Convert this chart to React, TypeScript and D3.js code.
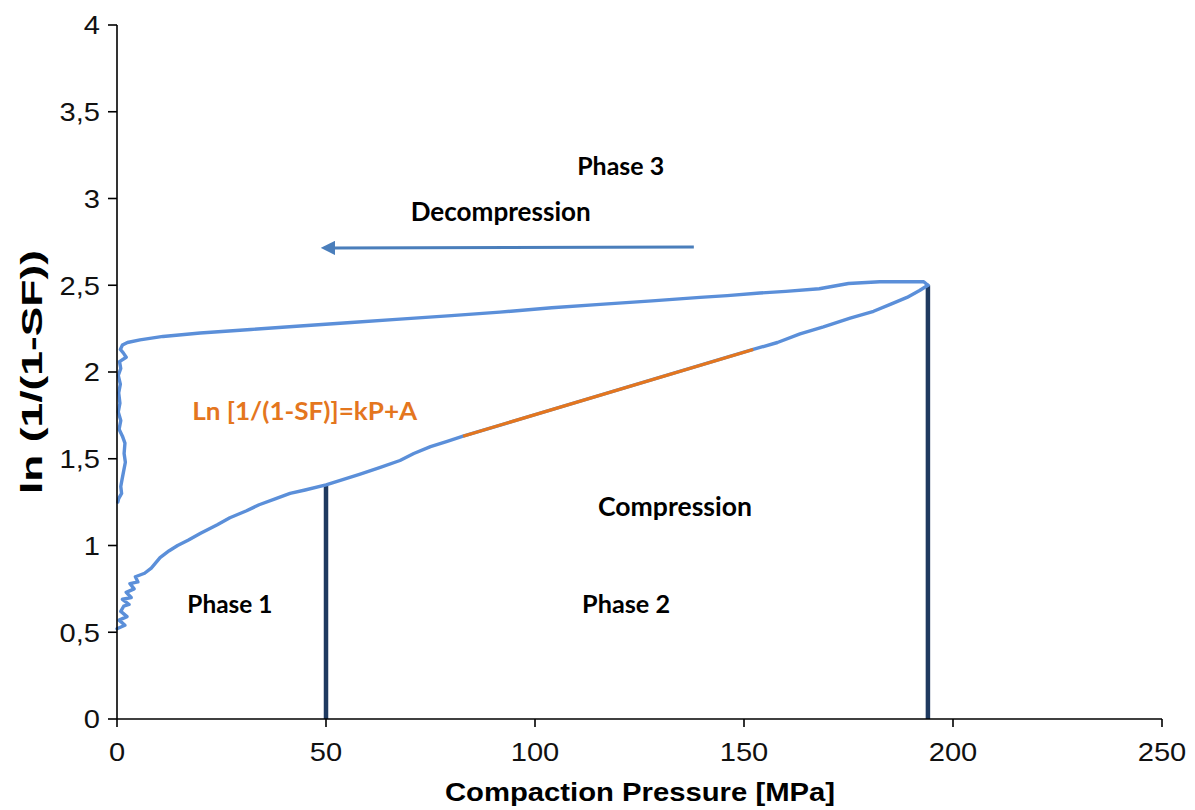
import * as d3 from 'd3'

const W = 1195
const H = 810
const MARGIN = { top: 25, right: 33, bottom: 91, left: 117 }

const X_TICKS = [0, 50, 100, 150, 200, 250]
const Y_TICKS = [0, 0.5, 1, 1.5, 2, 2.5, 3, 3.5, 4]

// compression branch: [pressure MPa, ln(1/(1-SF))]
const COMPRESSION: [number, number][] = [
  [0.0, 0.52], [1.9, 0.54], [0.5, 0.57], [2.4, 0.59], [0.9, 0.62], [1.6, 0.65],
  [2.9, 0.66], [1.3, 0.69], [3.4, 0.7], [2.2, 0.73], [4.1, 0.75], [3.1, 0.78],
  [5.0, 0.79], [4.4, 0.82], [6.6, 0.84], [8.2, 0.87], [10.3, 0.93], [12.5, 0.97],
  [14.5, 1.0], [17.0, 1.03], [20, 1.07], [24, 1.12], [27, 1.16], [31, 1.2],
  [34, 1.235], [38, 1.27], [41.4, 1.3], [45, 1.32], [50, 1.35], [54, 1.38],
  [58, 1.41], [63, 1.45], [67.7, 1.49], [71, 1.53], [75, 1.57], [79, 1.6],
  [82.8, 1.63], [152.2, 2.13], [158, 2.17], [163.4, 2.22], [169, 2.26],
  [175.4, 2.31], [181, 2.35], [185, 2.39], [189, 2.43], [192, 2.47], [194, 2.5]
]

// linear fit region shown in orange
const FIT: [number, number][] = [[82.8, 1.63], [152.2, 2.13]]

// decompression branch
const DECOMPRESSION: [number, number][] = [
  [194, 2.5], [193, 2.52], [182.5, 2.52], [175, 2.51], [168, 2.48], [160, 2.465],
  [153.8, 2.455], [146, 2.44], [139.5, 2.43], [128, 2.41], [115.6, 2.39],
  [104, 2.37], [91.6, 2.345], [80, 2.325], [67.7, 2.305], [56, 2.285],
  [43.8, 2.265], [32, 2.245], [19.9, 2.225], [11, 2.205], [5.5, 2.185],
  [2.5, 2.17], [1.3, 2.155], [0.8, 2.13], [1.5, 2.11], [2.2, 2.085],
  [0.6, 2.06], [0.9, 2.02], [0.3, 1.98], [0.8, 1.93], [0.4, 1.88], [0.7, 1.82],
  [0.3, 1.77], [0.9, 1.72], [0.5, 1.67], [1.3, 1.63], [1.9, 1.59], [1.7, 1.53],
  [2.0, 1.48], [1.6, 1.43], [1.2, 1.38], [0.9, 1.34], [1.1, 1.3], [0.4, 1.27], [0.2, 1.25]
]

const PHASE_LINES = [
  { p: 50, top: 1.35 },
  { p: 194, top: 2.5 }
]

const ARROW = { from: [138, 2.72], to: [51.5, 2.715] }

const LABELS = [
  { text: 'Phase 3', p: 120.5, v: 3.175, size: 25, len: 87, color: '#000' },
  { text: 'Decompression', p: 91.8, v: 2.91, size: 26, len: 180, color: '#000' },
  { text: 'Ln [1/(1-SF)]=kP+A', p: 44.9, v: 1.76, size: 25, len: 225, color: '#E4761E' },
  { text: 'Compression', p: 133.5, v: 1.21, size: 26, len: 154, color: '#000' },
  { text: 'Phase 1', p: 27, v: 0.65, size: 25, len: 85, color: '#000' },
  { text: 'Phase 2', p: 121.8, v: 0.65, size: 25, len: 88, color: '#000' }
]

export default function App() {
  const innerW = W - MARGIN.left - MARGIN.right
  const innerH = H - MARGIN.top - MARGIN.bottom

  const x = d3.scaleLinear().domain([0, 250]).range([0, innerW])
  const y = d3.scaleLinear().domain([0, 4]).range([innerH, 0])

  const line = d3.line<[number, number]>()
    .x(d => x(d[0]))
    .y(d => y(d[1]))

  const fmt = (v: number) => String(v).replace('.', ',')
  const labelFont = 'Lato, "Open Sans", sans-serif'
  const axisFont = '"Liberation Sans", Arial, sans-serif'
  const stretch = 1.12

  return (
    <svg width={W} height={H} style={{ position: 'absolute', left: 0, top: 0, background: '#fff' }}>
      <defs>
        <marker id="arrowhead" viewBox="0 0 10 10" refX="2" refY="5"
          markerWidth="4.8" markerHeight="4.8" orient="auto-start-reverse">
          <path d="M0,0 L10,5 L0,10 z" fill="#4A7EBB" />
        </marker>
      </defs>
      <g transform={`translate(${MARGIN.left}, ${MARGIN.top})`}>
        {/* Phase separators */}
        {PHASE_LINES.map(d => (
          <line key={d.p} x1={x(d.p)} x2={x(d.p)} y1={y(0)} y2={y(d.top)}
            stroke="#1F3A60" strokeWidth={4.5} />
        ))}

        {/* Curves */}
        <path d={line(DECOMPRESSION) || ''} fill="none" stroke="#5B8FD9" strokeWidth={3.4}
          strokeLinejoin="round" strokeLinecap="round" />
        <path d={line(COMPRESSION) || ''} fill="none" stroke="#5B8FD9" strokeWidth={3.4}
          strokeLinejoin="round" strokeLinecap="round" />
        <path d={line(FIT) || ''} fill="none" stroke="#E4761E" strokeWidth={3.2} />

        {/* Arrow */}
        <line x1={x(ARROW.from[0])} y1={y(ARROW.from[1])} x2={x(ARROW.to[0])} y2={y(ARROW.to[1])}
          stroke="#4A7EBB" strokeWidth={3} markerEnd="url(#arrowhead)" />

        {/* Annotations */}
        {LABELS.map(l => (
          <text key={l.text} x={x(l.p) - l.len / 2} y={y(l.v)} dominantBaseline="middle"
            textLength={l.len} lengthAdjust="spacingAndGlyphs"
            fontFamily={labelFont} fontWeight="bold" fontSize={l.size} fill={l.color}>
            {l.text}
          </text>
        ))}

        {/* Axes */}
        <line x1={0} x2={innerW} y1={innerH} y2={innerH} stroke="#000" strokeWidth={1.6} />
        <line x1={0} x2={0} y1={0} y2={innerH} stroke="#000" strokeWidth={1.6} />
        {X_TICKS.map(t => (
          <g key={t} transform={`translate(${x(t)}, ${innerH})`}>
            <line y1={0} y2={8} stroke="#000" strokeWidth={1.6} />
            <text transform={`translate(0, 42) scale(${stretch}, 1)`} textAnchor="middle"
              fontFamily={axisFont} fontSize={26} fill="#111">{t}</text>
          </g>
        ))}
        {Y_TICKS.map(t => (
          <g key={t} transform={`translate(0, ${y(t)})`}>
            <line x1={-9} x2={0} stroke="#000" strokeWidth={1.6} />
            <text transform={`translate(-17, 0) scale(${stretch}, 1)`} dy="0.36em" textAnchor="end"
              fontFamily={axisFont} fontSize={26} fill="#111">{fmt(t)}</text>
          </g>
        ))}

        <text x={445 - MARGIN.left} y={801 - MARGIN.top} textLength={390} lengthAdjust="spacingAndGlyphs"
          fontFamily={axisFont} fontWeight="bold" fontSize={26} fill="#000">
          Compaction Pressure [MPa]
        </text>
        <text transform={`translate(${42 - MARGIN.left}, ${494 - MARGIN.top}) rotate(-90)`}
          textLength={244} lengthAdjust="spacingAndGlyphs"
          fontFamily={axisFont} fontWeight="bold" fontSize={30} fill="#000">
          ln (1/(1-SF))
        </text>
      </g>
    </svg>
  )
}
